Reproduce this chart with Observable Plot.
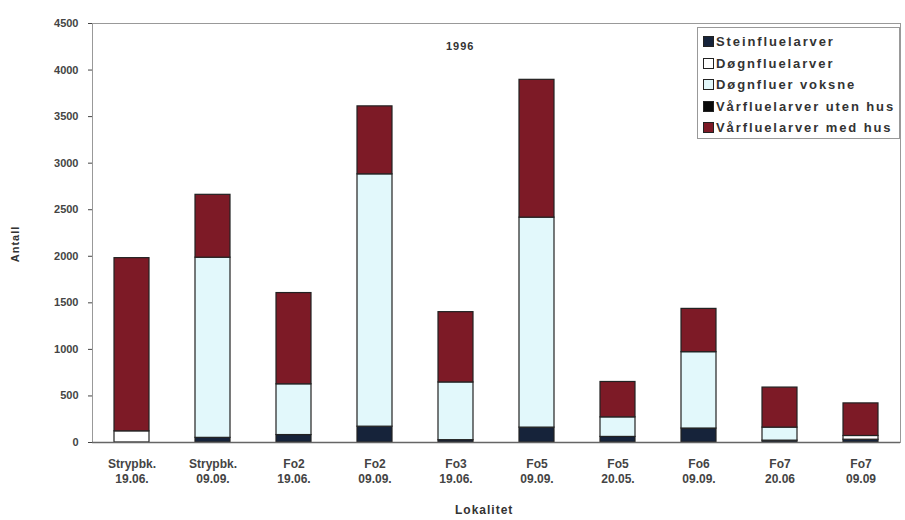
<!DOCTYPE html>
<html>
<head>
<meta charset="utf-8">
<script src="https://cdn.jsdelivr.net/npm/d3@7"></script>
<script src="https://cdn.jsdelivr.net/npm/@observablehq/plot@0.6"></script>
<style>
  body { margin: 0; background: #fff; }
  #wrap { position: relative; width: 905px; height: 520px; font-family: "Liberation Sans", Arial, sans-serif; }
  #legend { position: absolute; left: 697px; top: 27px; width: 203px; height: 112px; border: 1px solid #999; background: #fff; box-sizing: border-box; padding-top: 3px; }
  .item { display: flex; align-items: center; height: 21.5px; font-size: 13px; font-weight: bold; color: #333; letter-spacing: 1.9px; padding-left: 5px; white-space: nowrap; }
  .sw { width: 9px; height: 9px; border: 1px solid #222; margin-right: 2px; flex: none; }
  .lbl { position: absolute; font-weight: bold; color: #333; font-size: 12px; letter-spacing: 1px; }
</style>
</head>
<body>
<div id="wrap"></div>
<script>
const categories = ["Strypbk.\n19.06.", "Strypbk.\n09.09.", "Fo2\n19.06.", "Fo2\n09.09.", "Fo3\n19.06.", "Fo5\n09.09.", "Fo5\n20.05.", "Fo6\n09.09.", "Fo7\n20.06", "Fo7\n09.09"];
const series = ["Steinfluelarver", "Døgnfluelarver", "Døgnfluer voksne", "Vårfluelarver uten hus", "Vårfluelarver med hus"];
const colors = ["#16233a", "#ffffff", "#e2f8fb", "#0a0a0a", "#7d1a26"];
const steinfluelarver      = [0,   50,  80,  170, 25,  160,  60,  150, 20,  30];
const dognfluelarver       = [120, 0,   0,   0,   0,   0,    0,   0,   0,   40];
const dognfluerVoksne      = [0,   1935, 545, 2710, 620, 2255, 210, 820, 140, 0];
const varfluelarverUtenHus = [0,   0,   0,   0,   0,   0,    0,   0,   0,   0];
const varfluelarverMedHus  = [1860, 675, 980, 730, 755, 1480, 380, 465, 430, 350];
const yTicks = [0, 500, 1000, 1500, 2000, 2500, 3000, 3500, 4000, 4500];

const seriesValues = [steinfluelarver, dognfluelarver, dognfluerVoksne, varfluelarverUtenHus, varfluelarverMedHus];
const rows = [];
categories.forEach((c, i) => {
  series.forEach((s, j) => rows.push({cat: c, series: s, value: seriesValues[j][i]}));
});

const chart = Plot.plot({
  width: 905,
  height: 520,
  marginLeft: 92,
  marginRight: 5,
  marginTop: 23,
  marginBottom: 78,
  style: {fontFamily: "Liberation Sans, Arial, sans-serif", fontSize: "12px", fontWeight: "bold", color: "#444", background: "#fff"},
  x: {domain: categories, paddingInner: 0.57, paddingOuter: 0.27, label: null},
  y: {domain: [0, 4500], label: null},
  color: {domain: series, range: colors},
  marks: [
    Plot.barY(rows, {x: "cat", y: "value", fill: "series", order: null, stroke: "#222", strokeWidth: 1.2}),
    Plot.frame({stroke: "#999"}),
    Plot.ruleX([0], {frameAnchor: "left", stroke: "#555", strokeWidth: 1.5}),
    Plot.ruleY([0], {stroke: "#666", strokeWidth: 1.5}),
    Plot.axisY({ticks: yTicks, tickFormat: d => String(d), tickSize: 4, tickPadding: 10, label: null, fill: "#444", fontSize: 11, letterSpacing: 1}),
    Plot.axisX({tickSize: 0, tickPadding: 15, label: null, fill: "#444", fontSize: 12, letterSpacing: 1, lineHeight: 1.25})
  ]
});
const wrap = document.getElementById("wrap");
wrap.appendChild(chart);

const title = document.createElement("div");
title.className = "lbl"; title.textContent = "1996";
title.style.left = "446px"; title.style.top = "40px"; title.style.fontSize = "11px";
wrap.appendChild(title);

const xl = document.createElement("div");
xl.className = "lbl"; xl.textContent = "Lokalitet";
xl.style.left = "455px"; xl.style.top = "503px"; xl.style.fontSize = "12px";
wrap.appendChild(xl);

const yl = document.createElement("div");
yl.className = "lbl"; yl.textContent = "Antall";
yl.style.left = "-3px"; yl.style.top = "238px"; yl.style.fontSize = "11px";
yl.style.transform = "rotate(-90deg)";
wrap.appendChild(yl);

const leg = document.createElement("div");
leg.id = "legend";
series.forEach((s, j) => {
  const it = document.createElement("div");
  it.className = "item";
  const sw = document.createElement("span");
  sw.className = "sw"; sw.style.background = colors[j];
  it.appendChild(sw);
  it.appendChild(document.createTextNode(s));
  leg.appendChild(it);
});
wrap.appendChild(leg);
</script>
</body>
</html>
